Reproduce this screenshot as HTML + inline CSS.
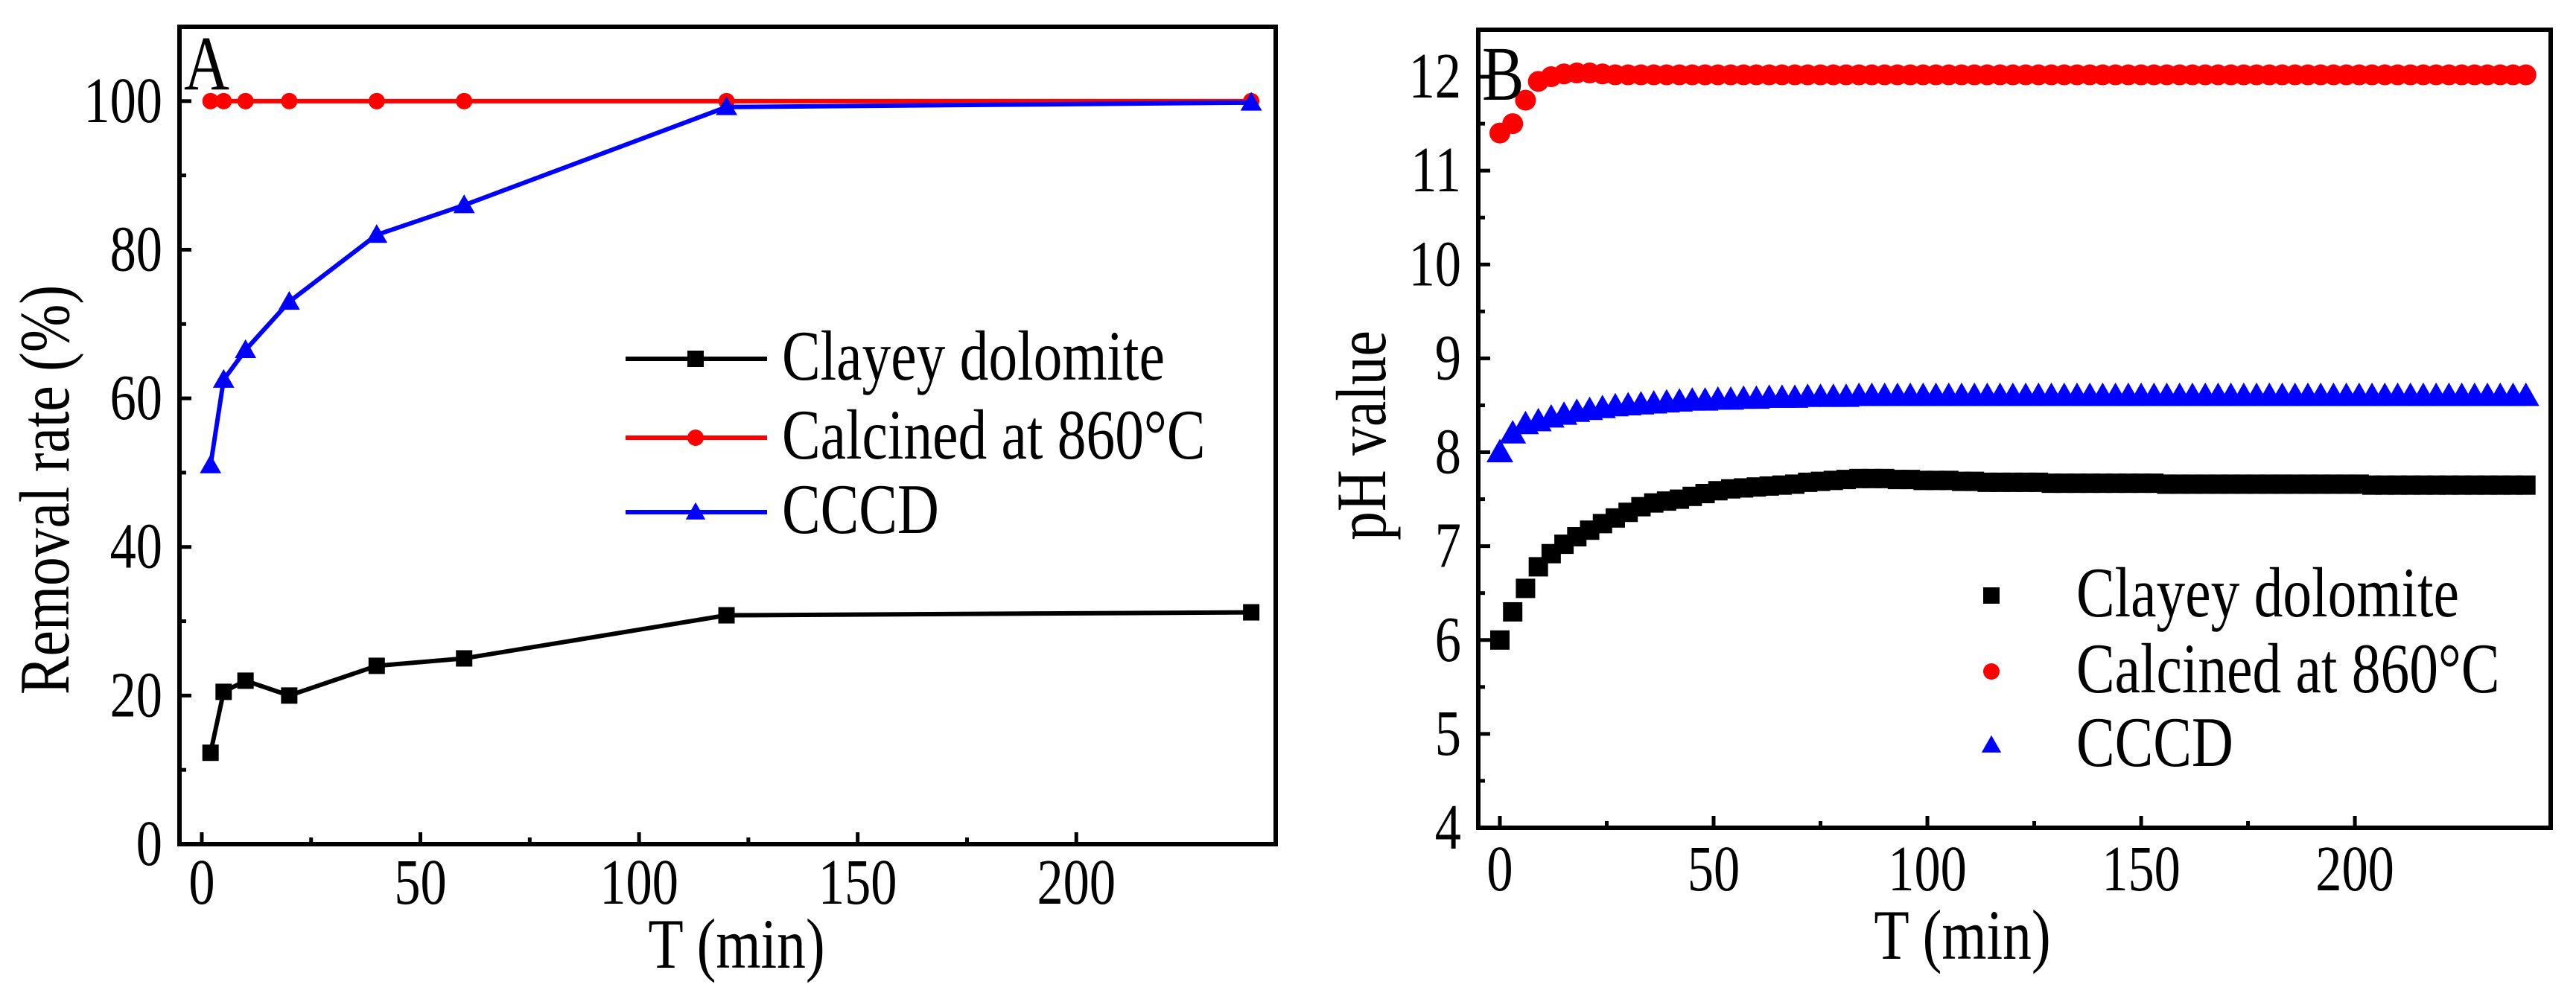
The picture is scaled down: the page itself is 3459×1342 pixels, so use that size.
<!DOCTYPE html>
<html><head><meta charset="utf-8"><style>
body{margin:0;background:#fff}
svg{display:block;font-family:"Liberation Serif",serif}
</style></head><body>
<svg id="c" width="3459" height="1342" viewBox="0 0 3459 1342"></svg>
<script>
// Panel A data
const timesA = [2, 5, 10, 20, 40, 60, 120, 240];
const clayeyA = [12.3, 20.5, 22, 20, 24, 25, 30.8, 31.2];
const calcinedA = [100, 100, 100, 100, 100, 100, 100, 100];
const cccdA = [51, 62.5, 66.5, 73, 82, 86, 99.2, 99.8];
const xTicksA = [0, 50, 100, 150, 200];
const yTicksA = [0, 20, 40, 60, 80, 100];
// Panel B data (sampled every 3 min)
const timesB = [0,3,6,9,12,15,18,21,24,27,30,33,36,39,42,45,48,51,54,57,60,63,66,69,72,75,78,81,84,87,90,93,96,99,102,105,108,111,114,117,120,123,126,129,132,135,138,141,144,147,150,153,156,159,162,165,168,171,174,177,180,183,186,189,192,195,198,201,204,207,210,213,216,219,222,225,228,231,234,237,240];
const clayeyB = [6.0,6.3,6.55,6.78,6.92,7.02,7.1,7.17,7.24,7.3,7.36,7.42,7.46,7.48,7.5,7.53,7.56,7.59,7.61,7.62,7.63,7.64,7.65,7.66,7.68,7.69,7.7,7.71,7.72,7.72,7.72,7.71,7.71,7.7,7.7,7.7,7.69,7.69,7.68,7.68,7.68,7.68,7.68,7.67,7.67,7.67,7.67,7.67,7.67,7.67,7.67,7.67,7.66,7.66,7.66,7.66,7.66,7.66,7.66,7.66,7.66,7.66,7.66,7.66,7.66,7.66,7.66,7.66,7.65,7.65,7.65,7.65,7.65,7.65,7.65,7.65,7.65,7.65,7.65,7.65,7.65];
const calcinedB = [11.4,11.5,11.75,11.95,12.0,12.03,12.04,12.04,12.03,12.02,12.02,12.02,12.02,12.02,12.02,12.02,12.02,12.02,12.02,12.02,12.02,12.02,12.02,12.02,12.02,12.02,12.02,12.02,12.02,12.02,12.02,12.02,12.02,12.02,12.02,12.02,12.02,12.02,12.02,12.02,12.02,12.02,12.02,12.02,12.02,12.02,12.02,12.02,12.02,12.02,12.02,12.02,12.02,12.02,12.02,12.02,12.02,12.02,12.02,12.02,12.02,12.02,12.02,12.02,12.02,12.02,12.02,12.02,12.02,12.02,12.02,12.02,12.02,12.02,12.02,12.02,12.02,12.02,12.02,12.02,12.02];
const cccdB = [8.0,8.2,8.3,8.33,8.37,8.4,8.43,8.45,8.47,8.49,8.5,8.51,8.52,8.53,8.54,8.55,8.55,8.56,8.56,8.57,8.57,8.58,8.58,8.58,8.59,8.59,8.59,8.59,8.6,8.6,8.6,8.6,8.6,8.6,8.6,8.6,8.6,8.6,8.6,8.6,8.6,8.6,8.6,8.6,8.6,8.6,8.6,8.6,8.6,8.6,8.6,8.6,8.6,8.6,8.6,8.6,8.6,8.6,8.6,8.6,8.6,8.6,8.6,8.6,8.6,8.6,8.6,8.6,8.6,8.6,8.6,8.6,8.6,8.6,8.6,8.6,8.6,8.6,8.6,8.6,8.6];
const xTicksB = [0, 50, 100, 150, 200];
const yTicksB = [4, 5, 6, 7, 8, 9, 10, 11, 12];

const NS = "http://www.w3.org/2000/svg";
const svg = document.getElementById('c');
function mk(tag, attrs, parent) {
  const e = document.createElementNS(NS, tag);
  for (const k in attrs) e.setAttribute(k, attrs[k]);
  (parent || svg).appendChild(e);
  return e;
}
function txt(parent, x, y, size, anchor, str, rot) {
  const t = mk('text', {x: 0, y: 0, 'text-anchor': anchor, 'font-size': size,
    transform: `translate(${x},${y})${rot ? ' rotate(-90)' : ''} scale(0.88,1.08)`}, parent);
  t.textContent = str;
  return t;
}
function marker(g, type, x, y, color, s) {
  let e;
  if (type === 'sq') e = mk('rect', {x: x - s/2, y: y - s/2, width: s, height: s, fill: color}, g);
  else if (type === 'ci') e = mk('circle', {cx: x, cy: y, r: s/2, fill: color}, g);
  else e = mk('polygon', {points: `${x},${y - s*0.6} ${x - s*0.6},${y + s*0.45} ${x + s*0.6},${y + s*0.45}`, fill: color}, g);
  return e;
}

function panel(cfg) {
  const g = mk('g', {});
  
  
  const {L, T, R, B, xmin, xmax, ymin, ymax} = cfg;
  const sx = v => L + (v - xmin) / (xmax - xmin) * (R - L);
  const sy = v => B - (v - ymin) / (ymax - ymin) * (B - T);
  const ta = mk('g', {stroke: '#000', 'stroke-width': 5}, g);
  
  
  cfg.xTicks.forEach((v, i) => {
    mk('line', {x1: sx(v), x2: sx(v), y1: B, y2: B - 16}, ta);
    if (i < cfg.xTicks.length - 1) { const m = (v + cfg.xTicks[i+1]) / 2; mk('line', {x1: sx(m), x2: sx(m), y1: B, y2: B - 9}, ta); }
    const t = txt(g, sx(v), cfg.xLabY, 80, 'middle', v);
    
    
  });
  cfg.yTicks.forEach((v, i) => {
    mk('line', {x1: L, x2: L + 16, y1: sy(v), y2: sy(v)}, ta);
    if (i < cfg.yTicks.length - 1) { const m = (v + cfg.yTicks[i+1]) / 2; mk('line', {x1: L, x2: L + 9, y1: sy(m), y2: sy(m)}, ta); }
    const t = txt(g, cfg.yLabX, sy(v) + 28, 80, 'end', v);
    
    
  });
  cfg.series.forEach(s => {
    const sg = mk('g', {}, g);
    
    
    if (s.line) mk('polyline', {points: s.x.map((v, i) => sx(v) + ',' + sy(s.y[i])).join(' '), fill: 'none', stroke: s.color, 'stroke-width': 6}, sg);
    s.x.forEach((v, i) => marker(sg, s.m, sx(v), sy(s.y[i]), s.color, s.size));
  });
  const fr = mk('rect', {x: L, y: T, width: R - L, height: B - T, fill: 'none', stroke: '#000', 'stroke-width': 6}, g);
  
  
  cfg.series.forEach((s, i) => {
    const lg = mk('g', {}, g);
    
    
    const y = cfg.legY[i];
    if (s.line) mk('line', {x1: cfg.legX1, x2: cfg.legX2, y1: y, y2: y, stroke: s.color, 'stroke-width': 6}, lg);
    marker(lg, s.m, cfg.legM, y, s.color, 22);
    txt(lg, cfg.legT, y + 28, 88, 'start', s.label);
  });
  const lt = txt(g, cfg.letter[0], cfg.letter[1], 96, 'start', cfg.letter[2]);
  
  
  const xt = txt(g, cfg.xTitle[0], cfg.xTitle[1], 88, 'middle', 'T (min)');
  
  
  const yt = txt(g, cfg.yTitle[0], cfg.yTitle[1], 88, 'middle', cfg.yTitle[2], true);
  
  
}

panel({name: 'panel-a-removal-rate', L: 241, T: 36, R: 1713, B: 1134, xmin: -5.1, xmax: 245.6, ymin: 0, ymax: 110,
  xTicks: xTicksA, yTicks: yTicksA, xLabY: 1214, yLabX: 218,
  series: [
    {name: 'series-clayey-dolomite', label: 'Clayey dolomite', x: timesA, y: clayeyA, color: '#000', m: 'sq', size: 22, line: true},
    {name: 'series-calcined-860', label: 'Calcined at 860°C', x: timesA, y: calcinedA, color: '#f00', m: 'ci', size: 22, line: true},
    {name: 'series-cccd', label: 'CCCD', x: timesA, y: cccdA, color: '#00f', m: 'tri', size: 24, line: true}],
  legY: [482, 588, 688], legX1: 840, legX2: 1030, legM: 934, legT: 1050,
  letter: [247, 120, 'A'], xTitle: [989, 1300], yTitle: [92, 658, 'Removal rate (%)']});

panel({name: 'panel-b-ph-value', L: 1985, T: 40, R: 3425, B: 1112, xmin: -5.05, xmax: 245.8, ymin: 4, ymax: 12.5,
  xTicks: xTicksB, yTicks: yTicksB, xLabY: 1196, yLabX: 1962,
  series: [
    {name: 'series-clayey-dolomite', label: 'Clayey dolomite', x: timesB, y: clayeyB, color: '#000', m: 'sq', size: 26, line: false},
    {name: 'series-calcined-860', label: 'Calcined at 860°C', x: timesB, y: calcinedB, color: '#f00', m: 'ci', size: 28, line: false},
    {name: 'series-cccd', label: 'CCCD', x: timesB, y: cccdB, color: '#00f', m: 'tri', size: 30, line: false}],
  legY: [800, 902, 1001], legX1: 0, legX2: 0, legM: 2674, legT: 2788,
  letter: [1990, 134, 'B'], xTitle: [2635, 1288], yTitle: [1860, 585, 'pH value']});
</script>
</body></html>
